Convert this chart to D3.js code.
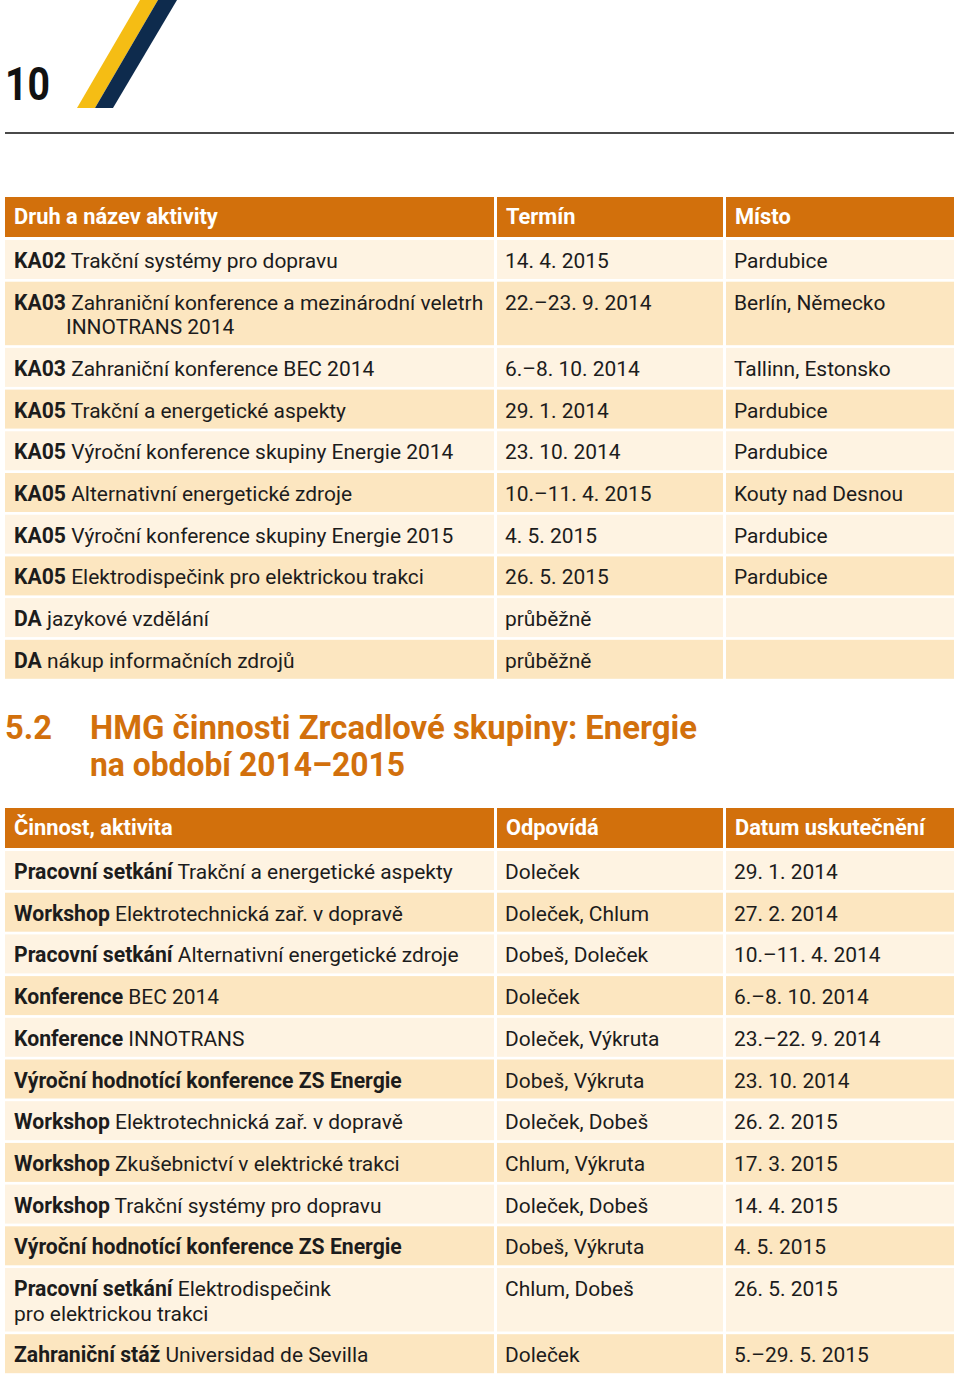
<!DOCTYPE html>
<html><head><meta charset="utf-8">
<script src="https://cdn.jsdelivr.net/npm/d3@7"></script>
<style>body{margin:0;background:#fff}svg{display:block}</style>
</head><body>
<svg id="c" width="960" height="1377"></svg>
<script>
// ---------- data ----------
const pageNumber = "10";
const sectionNumber = "5.2";
const sectionTitle = ["HMG činnosti Zrcadlové skupiny: Energie", "na období 2014–2015"];

const table1Headers = ["Druh a název aktivity", "Termín", "Místo"];
const table1Codes = ["KA02","KA03","KA03","KA05","KA05","KA05","KA05","KA05","DA","DA"];
const table1Names = ["Trakční systémy pro dopravu",
  "Zahraniční konference a mezinárodní veletrh\nINNOTRANS 2014",
  "Zahraniční konference BEC 2014",
  "Trakční a energetické aspekty",
  "Výroční konference skupiny Energie 2014",
  "Alternativní energetické zdroje",
  "Výroční konference skupiny Energie 2015",
  "Elektrodispečink pro elektrickou trakci",
  "jazykové vzdělání",
  "nákup informačních zdrojů"];
const table1Dates = ["14. 4. 2015","22.–23. 9. 2014","6.–8. 10. 2014","29. 1. 2014","23. 10. 2014",
  "10.–11. 4. 2015","4. 5. 2015","26. 5. 2015","průběžně","průběžně"];
const table1Places = ["Pardubice","Berlín, Německo","Tallinn, Estonsko","Pardubice","Pardubice",
  "Kouty nad Desnou","Pardubice","Pardubice","",""];

const table2Headers = ["Činnost, aktivita", "Odpovídá", "Datum uskutečnění"];
const table2Kinds = ["Pracovní setkání","Workshop","Pracovní setkání","Konference","Konference",
  "Výroční hodnotící konference ZS Energie","Workshop","Workshop","Workshop",
  "Výroční hodnotící konference ZS Energie","Pracovní setkání","Zahraniční stáž"];
const table2Names = ["Trakční a energetické aspekty","Elektrotechnická zař. v dopravě",
  "Alternativní energetické zdroje","BEC 2014","INNOTRANS","",
  "Elektrotechnická zař. v dopravě","Zkušebnictví v elektrické trakci",
  "Trakční systémy pro dopravu","","Elektrodispečink\npro elektrickou trakci","Universidad de Sevilla"];
const table2Responsible = ["Doleček","Doleček, Chlum","Dobeš, Doleček","Doleček","Doleček, Výkruta",
  "Dobeš, Výkruta","Doleček, Dobeš","Chlum, Výkruta","Doleček, Dobeš","Dobeš, Výkruta",
  "Chlum, Dobeš","Doleček"];
const table2Dates = ["29. 1. 2014","27. 2. 2014","10.–11. 4. 2014","6.–8. 10. 2014","23.–22. 9. 2014",
  "23. 10. 2014","26. 2. 2015","17. 3. 2015","14. 4. 2015","4. 5. 2015","26. 5. 2015","5.–29. 5. 2015"];

// ---------- style ----------
const ORANGE = "#d2700c", LIGHT = "#fef3e2", DARK = "#fce6c0", INK = "#1c1c1c";
const FONT = "Roboto, 'Noto Sans', sans-serif";
const colEdges = [[5, 494], [497, 723], [726, 954]];
const PAD = 9;

const svg = d3.select("#c");
svg.append("rect").attr("width", 960).attr("height", 1377).attr("fill", "#fff");

// measuring helper to fit font sizes
function measure(str, weight, size) {
  const t = svg.append("text").attr("font-family", FONT).attr("font-weight", weight)
    .attr("font-size", size).text(str);
  const w = t.node().getComputedTextLength();
  t.remove();
  return w;
}
const regSize = 100 * 169 / measure("Kouty nad Desnou", 400, 100);
const boldSize = 100 * 388 / measure("Výroční hodnotící konference ZS Energie", 700, 100);
const headSize = 100 * 190 / measure("Datum uskutečnění", 700, 100);
const bodySize = (regSize + boldSize) / 2;

// ---------- page header ----------
const stripes = [
  {fill: "#f5bd14", pts: [[77,108],[95,108],[158,0],[140,0]]},
  {fill: "#0e2b4d", pts: [[95,108],[113,108],[177,0],[158,0]]}
];
svg.selectAll("path.stripe").data(stripes).join("path").attr("class","stripe")
  .attr("d", d => d3.line()(d.pts) + "Z").attr("fill", d => d.fill);
svg.append("text").attr("x", 5).attr("y", 100).attr("font-family", FONT).attr("font-weight", 700)
  .attr("font-size", 46).attr("textLength", 45).attr("lengthAdjust", "spacingAndGlyphs")
  .attr("fill", "#111").text(pageNumber);
svg.append("line").attr("x1", 5).attr("x2", 954).attr("y1", 133).attr("y2", 133)
  .attr("stroke", "#4a4a4a").attr("stroke-width", 2);

// ---------- tables ----------
function drawTable(top, headers, rows, hanging) {
  const g = svg.append("g");
  const headerH = 40;
  g.selectAll("rect.h").data(colEdges).join("rect").attr("class","h")
    .attr("x", d => d[0]).attr("y", top).attr("width", d => d[1]-d[0]).attr("height", headerH)
    .attr("fill", ORANGE);
  g.selectAll("text.h").data(headers).join("text").attr("class","h")
    .attr("x", (d,i) => colEdges[i][0] + PAD).attr("y", top + 27)
    .attr("font-family", FONT).attr("font-weight", 700).attr("font-size", headSize)
    .attr("fill", "#fff").text(d => d);

  let y = top + 43;
  rows.forEach((r, i) => {
    const lines = r.name.split("\n");
    const h = 39 + 24.5 * (lines.length - 1);
    const fill = i % 2 === 0 ? LIGHT : DARK;
    g.selectAll(null).data(colEdges).join("rect")
      .attr("x", d => d[0]).attr("y", y).attr("width", d => d[1]-d[0]).attr("height", h)
      .attr("fill", fill);
    const base = y + 28;
    const t = g.append("text").attr("x", colEdges[0][0] + PAD).attr("y", base)
      .attr("font-family", FONT).attr("font-size", bodySize).attr("fill", INK);
    t.append("tspan").attr("font-weight", 700).attr("font-size", boldSize).text(r.bold);
    if (lines[0]) t.append("tspan").attr("font-size", regSize).text(" " + lines[0]);
    const indent = hanging ? measure(r.bold + " ", 700, boldSize) : 0;
    lines.slice(1).forEach((ln, k) => {
      g.append("text").attr("x", colEdges[0][0] + PAD + indent).attr("y", base + 24.5 * (k + 1))
        .attr("font-family", FONT).attr("font-size", regSize).attr("fill", INK).text(ln);
    });
    [r.c2, r.c3].forEach((v, k) => {
      g.append("text").attr("x", colEdges[k+1][0] + 8).attr("y", base)
        .attr("font-family", FONT).attr("font-size", regSize).attr("fill", INK).text(v);
    });
    y += h + 2.7;
  });
}

const rows1 = table1Codes.map((c, i) => ({bold: c, name: table1Names[i], c2: table1Dates[i], c3: table1Places[i]}));
drawTable(197, table1Headers, rows1, true);

// ---------- section heading ----------
const hg = svg.append("g").attr("font-family", FONT).attr("font-weight", 700).attr("fill", ORANGE)
  .attr("font-size", 33);
hg.append("text").attr("x", 5).attr("y", 739).attr("textLength", 47).attr("lengthAdjust", "spacingAndGlyphs")
  .text(sectionNumber);
const titleW = [607, 315];
sectionTitle.forEach((s, i) => {
  hg.append("text").attr("x", 90).attr("y", 739 + 37 * i).attr("textLength", titleW[i])
    .attr("lengthAdjust", "spacingAndGlyphs").text(s);
});

const rows2 = table2Kinds.map((k, i) => ({bold: k, name: table2Names[i], c2: table2Responsible[i], c3: table2Dates[i]}));
drawTable(808, table2Headers, rows2, false);
</script>
</body></html>
